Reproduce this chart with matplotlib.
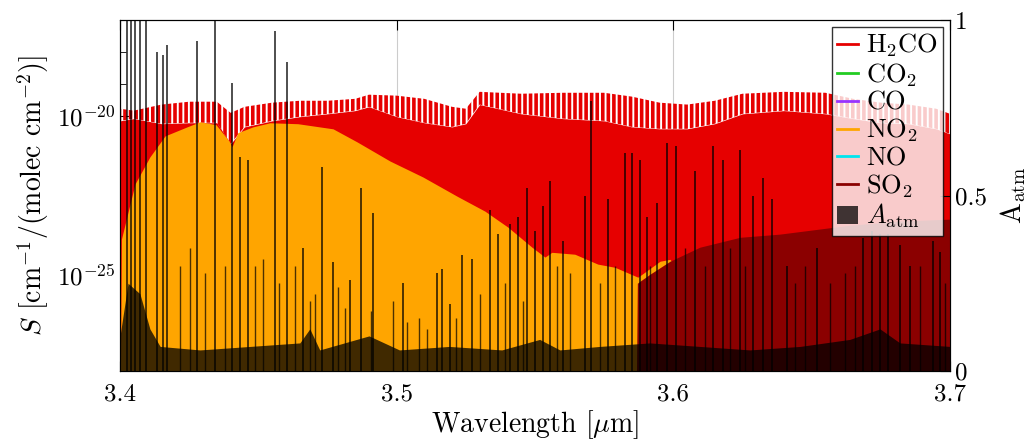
import numpy as np
import matplotlib.pyplot as plt
from matplotlib.lines import Line2D
from matplotlib.patches import Patch

plt.rcParams['font.family'] = 'serif'
plt.rcParams['font.serif'] = ['cmr10', 'DejaVu Serif']
plt.rcParams['mathtext.fontset'] = 'cm'
plt.rcParams['axes.unicode_minus'] = False
plt.rcParams['axes.formatter.use_mathtext'] = True
plt.rcParams['hatch.linewidth'] = 2.6

# H2CO: line-peak envelope and inter-line floor, log10 S
wl_h2co = [3.400, 3.405, 3.415, 3.425, 3.435, 3.440, 3.445, 3.455, 3.465, 3.475,
           3.485, 3.490, 3.500, 3.510, 3.520, 3.525, 3.530, 3.545, 3.560, 3.575,
           3.585, 3.595, 3.605, 3.615, 3.625, 3.640, 3.655, 3.665, 3.675, 3.685,
           3.695, 3.700]
h2co_top = [-19.78, -19.84, -19.65, -19.56, -19.56, -19.91, -19.72, -19.59, -19.53, -19.53,
            -19.47, -19.34, -19.37, -19.47, -19.72, -19.78, -19.25, -19.31, -19.28, -19.28,
            -19.40, -19.59, -19.65, -19.53, -19.31, -19.25, -19.28, -19.47, -19.59, -19.65,
            -19.78, -19.94]
h2co_floor = [-20.16, -20.09, -20.25, -20.22, -20.22, -20.88, -20.35, -20.16, -20.03, -19.94,
              -19.84, -19.72, -20.03, -20.22, -20.35, -20.25, -19.65, -19.94, -20.09, -20.16,
              -20.35, -20.41, -20.41, -20.25, -19.94, -19.84, -19.94, -20.09, -20.22, -20.25,
              -20.41, -20.57]

# NO2 envelope, log10 S
wl_no2 = [3.4000, 3.4005, 3.4054, 3.4108, 3.4163, 3.4242, 3.4289, 3.4347, 3.4394, 3.4405,
          3.4426, 3.4480, 3.4542, 3.4643, 3.4770, 3.4857, 3.4976, 3.5095, 3.5218, 3.5319,
          3.5402, 3.5489, 3.5536, 3.5561, 3.5644, 3.5727, 3.5789, 3.5872, 3.5952, 3.5988,
          3.6042, 3.6096, 3.6100]
no2_logS = [-30.0, -23.87, -22.14, -21.29, -20.63, -20.35, -20.19, -20.28, -20.79, -20.97,
            -20.53, -20.35, -20.22, -20.25, -20.41, -20.82, -21.42, -21.92, -22.52, -22.99,
            -23.49, -24.12, -24.43, -24.28, -24.34, -24.65, -24.75, -25.06, -24.56, -24.50,
            -25.13, -25.75, -30.0]

# SO2 envelope, log10 S
wl_so2 = [3.5865, 3.5870, 3.5879, 3.5915, 3.5988, 3.6096, 3.6241, 3.6385, 3.6530, 3.6638,
          3.6819, 3.7000]
so2_logS = [-30.0, -25.25, -25.19, -24.97, -24.56, -24.12, -23.81, -23.71, -23.55, -23.43,
            -23.30, -23.24]

# atmospheric absorption: continuum and lines
wl_atm = [3.4000, 3.4029, 3.4072, 3.4108, 3.4145, 3.4289, 3.4470, 3.4650, 3.4686, 3.4722,
          3.4900, 3.5010, 3.5190, 3.5380, 3.5517, 3.5590, 3.5734, 3.5915, 3.6096, 3.6277,
          3.6458, 3.6638, 3.6747, 3.6819, 3.7000]
atm_cont = [0.10, 0.25, 0.22, 0.12, 0.07, 0.06, 0.07, 0.08, 0.12, 0.06,
            0.10, 0.06, 0.07, 0.06, 0.09, 0.06, 0.07, 0.08, 0.07, 0.06,
            0.07, 0.09, 0.12, 0.08, 0.07]
line_wl = [3.4025, 3.4040, 3.4054, 3.4072, 3.4094, 3.4134, 3.4155, 3.4170, 3.4278, 3.4343,
           3.4405, 3.4434, 3.4463, 3.4560, 3.4604, 3.4730, 3.4661, 3.4770, 3.4831, 3.4871,
           3.4914, 3.5023, 3.5146, 3.5164, 3.5193, 3.5236, 3.5272, 3.5337, 3.5366, 3.5409,
           3.5438, 3.5471, 3.5500, 3.5529, 3.5554, 3.5601, 3.5681, 3.5702, 3.5764, 3.5825,
           3.5850, 3.5879, 3.5905, 3.5941, 3.5977, 3.6009, 3.6078, 3.6143, 3.6179, 3.6241,
           3.6288, 3.6324, 3.6356, 3.6411, 3.6519, 3.6685, 3.6718, 3.6747, 3.6776, 3.6819,
           3.6855, 3.6938, 3.6964]
line_A = [1.10, 1.10, 1.10, 1.10, 1.10, 0.91, 0.90, 0.93, 0.94, 1.02,
          0.82, 0.61, 0.60, 0.97, 0.88, 0.58, 0.35, 0.31, 0.26, 0.52,
          0.45, 0.25, 0.28, 0.29, 0.19, 0.33, 0.32, 0.46, 0.39, 0.42,
          0.44, 0.52, 0.40, 0.47, 0.54, 0.37, 0.50, 0.77, 0.49, 0.62,
          0.62, 0.60, 0.44, 0.48, 0.65, 0.64, 0.57, 0.64, 0.60, 0.63,
          0.50, 0.55, 0.49, 0.30, 0.35, 0.38, 0.40, 0.39, 0.39, 0.36,
          0.30, 0.37, 0.34]
weak_wl = [3.4217, 3.4253, 3.4307, 3.4379, 3.4488, 3.4517, 3.4574, 3.4632, 3.4686, 3.4705,
           3.4788, 3.4813, 3.4907, 3.4986, 3.5037, 3.5081, 3.5109, 3.5214, 3.5301, 3.5391,
           3.5456, 3.5579, 3.5626, 3.5735, 3.5788, 3.5915, 3.6042, 3.6114, 3.6205, 3.6259,
           3.6440, 3.6476, 3.6566, 3.6620, 3.6656, 3.6891, 3.6982]
weak_A = [0.30, 0.35, 0.28, 0.30, 0.30, 0.32, 0.25, 0.30, 0.20, 0.22,
          0.24, 0.18, 0.17, 0.20, 0.14, 0.15, 0.12, 0.15, 0.22, 0.25,
          0.20, 0.30, 0.28, 0.25, 0.30, 0.30, 0.35, 0.30, 0.35, 0.30,
          0.25, 0.30, 0.25, 0.28, 0.30, 0.30, 0.25]

c_h2co = '#e60000'
c_no2 = '#ffa500'
c_so2 = '#8b0000'

fig = plt.figure(figsize=(10.31, 4.45), dpi=100)
ax = fig.add_axes([0.1164, 0.1663, 0.805, 0.7887])

wl_h2co = np.array(wl_h2co)
ax.fill_between(wl_h2co, 1e-30, 10 ** np.array(h2co_floor), color=c_h2co, lw=0, zorder=2)
ax.fill_between(wl_h2co, 10 ** np.array(h2co_floor), 10 ** np.array(h2co_top),
                facecolor='none', edgecolor=c_h2co, hatch='|||', lw=0, zorder=2)
ax.fill_between(wl_no2, 1e-30, 10 ** np.array(no2_logS), color=c_no2, lw=0, zorder=3)
ax.fill_between(wl_so2, 1e-30, 10 ** np.array(so2_logS), color=c_so2, lw=0, zorder=4)

ax.set_yscale('log')
ax.set_xlim(3.4, 3.7)
ax.set_ylim(1e-28, 1e-17)
ax.set_xticks([3.4, 3.5, 3.6, 3.7])
ax.set_xticklabels(['3.4', '3.5', '3.6', '3.7'])
ax.set_yticks([1e-25, 1e-20])
ax.set_yticks([10.0 ** k for k in range(-28, -16)], minor=True)
ax.yaxis.set_minor_formatter(plt.NullFormatter())
ax.tick_params(which='both', direction='in', top=True, labelsize=18)
ax.tick_params(axis='x', pad=9)
ax.tick_params(which='major', length=7)
ax.tick_params(which='minor', length=4)
ax.grid(axis='x', color='#cccccc', lw=0.8)
ax.set_axisbelow(True)
ax.set_xlabel(r'Wavelength [$\mu$m]', fontsize=20, labelpad=2)
ax.set_ylabel(r'$S$ [cm$^{-1}$/(molec cm$^{-2}$)]', fontsize=20)

ax2 = ax.twinx()
ax2.fill_between(wl_atm, 0, atm_cont, color='k', alpha=0.75, lw=0)
ax2.vlines(line_wl, 0, line_A, color='k', alpha=0.75, lw=1.3)
ax2.vlines(weak_wl, 0, weak_A, color='k', alpha=0.7, lw=1.0)
ax2.set_ylim(0, 1)
ax2.set_yticks([0, 0.5, 1])
ax2.set_yticklabels(['0', '0.5', '1'])
ax2.tick_params(direction='in', length=7, labelsize=18)
ax2.set_ylabel(r'$\mathrm{A_{atm}}$', fontsize=20, labelpad=8)
ax2.set_xlim(3.4, 3.7)

handles = [Line2D([], [], color=c_h2co, lw=2),
           Line2D([], [], color='#22cc22', lw=2),
           Line2D([], [], color='#9933ff', lw=2),
           Line2D([], [], color=c_no2, lw=2),
           Line2D([], [], color='#00e5ee', lw=2),
           Line2D([], [], color=c_so2, lw=2),
           Patch(facecolor='k', alpha=0.75)]
labels = [r'H$_2$CO', r'CO$_2$', 'CO', r'NO$_2$', 'NO', r'SO$_2$', r'$A_\mathrm{atm}$']
leg = ax2.legend(handles, labels, loc='upper right', fontsize=19, fancybox=False,
                 edgecolor='k', framealpha=0.8, handlelength=0.8, handletextpad=0.3,
                 labelspacing=0.08, borderpad=0.2, borderaxespad=0.25)
leg.get_frame().set_linewidth(1.0)

fig.savefig('out.png', dpi=100)
